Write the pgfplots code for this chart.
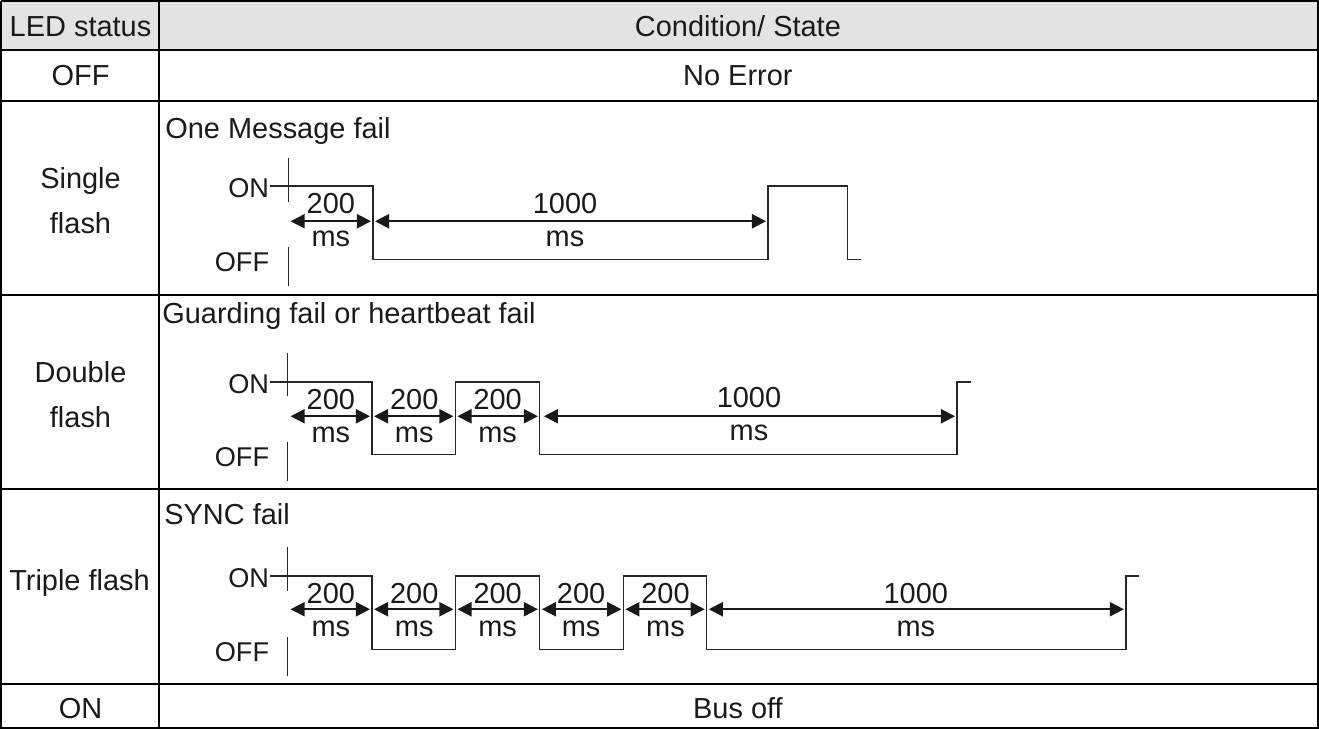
\documentclass[border=0pt]{standalone}
\usepackage{pgfplots}
\pgfplotsset{compat=1.18}
\usepackage{fontspec}
\setmainfont{Liberation Sans}
\usetikzlibrary{arrows.meta}
\definecolor{hdr}{HTML}{E3E3E3}
\definecolor{txt}{HTML}{1A1A1A}
\newcommand{\fs}{\fontsize{14.4}{16}\selectfont}
\newcommand{\fss}{\fontsize{13.5}{15}\selectfont}
\begin{document}
\begin{tikzpicture}[
  T/.style={font=\fs, text=txt, anchor=base, yshift=-5.1pt, inner sep=0pt},
  TW/.style={T, anchor=base west},
  TE/.style={font=\fss, text=txt, anchor=base east, yshift=-4.8pt, inner sep=0pt},
  W/.style={black!85, line width=0.6pt},
  A/.style={black!90, line width=1pt, {Triangle[length=7pt,width=7pt]}-{Triangle[length=7pt,width=7pt]}},
  G/.style={black, line width=1.1pt},
]
\begin{axis}[scale only axis, width=659.5pt, height=365.5pt,
  xmin=0, xmax=1319, ymin=0, ymax=731, y dir=reverse, hide axis, clip=false]
% header background
\addplot[fill=hdr, draw=none] coordinates {(5,7) (1315,7) (1315,56) (5,56) (5,7)};
% table grid
\addplot[G] coordinates {(5,7) (1315,7) (1315,730) (5,730) (5,7)};
\addplot[G] coordinates {(162,7) (162,730)};
\addplot[G] coordinates {(5,56) (1315,56)};
\addplot[G] coordinates {(5,106) (1315,106)};
\addplot[G] coordinates {(5,299) (1315,299)};
\addplot[G] coordinates {(5,492) (1315,492)};
\addplot[G] coordinates {(5,686) (1315,686)};
% texts of the table
\node[T] at (axis cs:84,32) {LED status};
\node[T] at (axis cs:738,32) {Condition/ State};
\node[T] at (axis cs:84,81) {OFF};
\node[T] at (axis cs:738,81) {No Error};
\node[T] at (axis cs:84,183) {Single};
\node[T] at (axis cs:84,228) {flash};
\node[T] at (axis cs:84,376) {Double};
\node[T] at (axis cs:84,421) {flash};
\node[T] at (axis cs:83,583) {Triple flash};
\node[T] at (axis cs:84,710) {ON};
\node[T] at (axis cs:738,710) {Bus off};
\node[TW] at (axis cs:168,133) {One Message fail};
\node[TW] at (axis cs:165,318) {Guarding fail or heartbeat fail};
\node[TW] at (axis cs:167,517) {SYNC fail};
% ---------- single flash ----------
\node[TE] at (axis cs:272,193) {ON};
\node[TE] at (axis cs:272,266) {OFF};
\addplot[W] coordinates {(291,163) (291,207)};
\addplot[W] coordinates {(291,252) (291,290)};
\addplot[W] coordinates {(273,191) (375,191) (375,264) (768,264) (768,191) (847,191) (847,264) (860,264)};
\addplot[A] coordinates {(293,226) (373,226)};
\addplot[A] coordinates {(377,226) (766,226)};
\node[T] at (axis cs:333,208) {200};
\node[T] at (axis cs:333,241) {ms};
\node[T] at (axis cs:566,208) {1000};
\node[T] at (axis cs:566,241) {ms};
% ---------- double flash ----------
\node[TE] at (axis cs:272,388) {ON};
\node[TE] at (axis cs:272,460) {OFF};
\addplot[W] coordinates {(290,357) (290,400)};
\addplot[W] coordinates {(290,446) (290,484)};
\addplot[W] coordinates {(273,386) (374,386) (374,458) (457,458) (457,386) (541,386) (541,458) (956,458) (956,386) (970,386)};
\addplot[A] coordinates {(293,420) (372,420)};
\addplot[A] coordinates {(376,420) (455,420)};
\addplot[A] coordinates {(459,420) (539,420)};
\addplot[A] coordinates {(545,420) (954,420)};
\node[T] at (axis cs:333,403) {200};
\node[T] at (axis cs:333,436) {ms};
\node[T] at (axis cs:416,403) {200};
\node[T] at (axis cs:416,436) {ms};
\node[T] at (axis cs:499,403) {200};
\node[T] at (axis cs:499,436) {ms};
\node[T] at (axis cs:749,401) {1000};
\node[T] at (axis cs:749,434) {ms};
% ---------- triple flash ----------
\node[TE] at (axis cs:272,581) {ON};
\node[TE] at (axis cs:272,654) {OFF};
\addplot[W] coordinates {(290,550) (290,594)};
\addplot[W] coordinates {(290,640) (290,678)};
\addplot[W] coordinates {(273,579) (374,579) (374,652) (457,652) (457,579) (541,579) (541,652) (624,652) (624,579) (707,579) (707,652) (1124,652) (1124,579) (1137,579)};
\addplot[A] coordinates {(293,612) (372,612)};
\addplot[A] coordinates {(376,612) (455,612)};
\addplot[A] coordinates {(459,612) (539,612)};
\addplot[A] coordinates {(543,612) (622,612)};
\addplot[A] coordinates {(626,612) (705,612)};
\addplot[A] coordinates {(709,612) (1122,612)};
\node[T] at (axis cs:333,596) {200};
\node[T] at (axis cs:333,629) {ms};
\node[T] at (axis cs:416,596) {200};
\node[T] at (axis cs:416,629) {ms};
\node[T] at (axis cs:499,596) {200};
\node[T] at (axis cs:499,629) {ms};
\node[T] at (axis cs:582,596) {200};
\node[T] at (axis cs:582,629) {ms};
\node[T] at (axis cs:666,596) {200};
\node[T] at (axis cs:666,629) {ms};
\node[T] at (axis cs:915,596) {1000};
\node[T] at (axis cs:915,629) {ms};
\end{axis}
\end{tikzpicture}
\end{document}
